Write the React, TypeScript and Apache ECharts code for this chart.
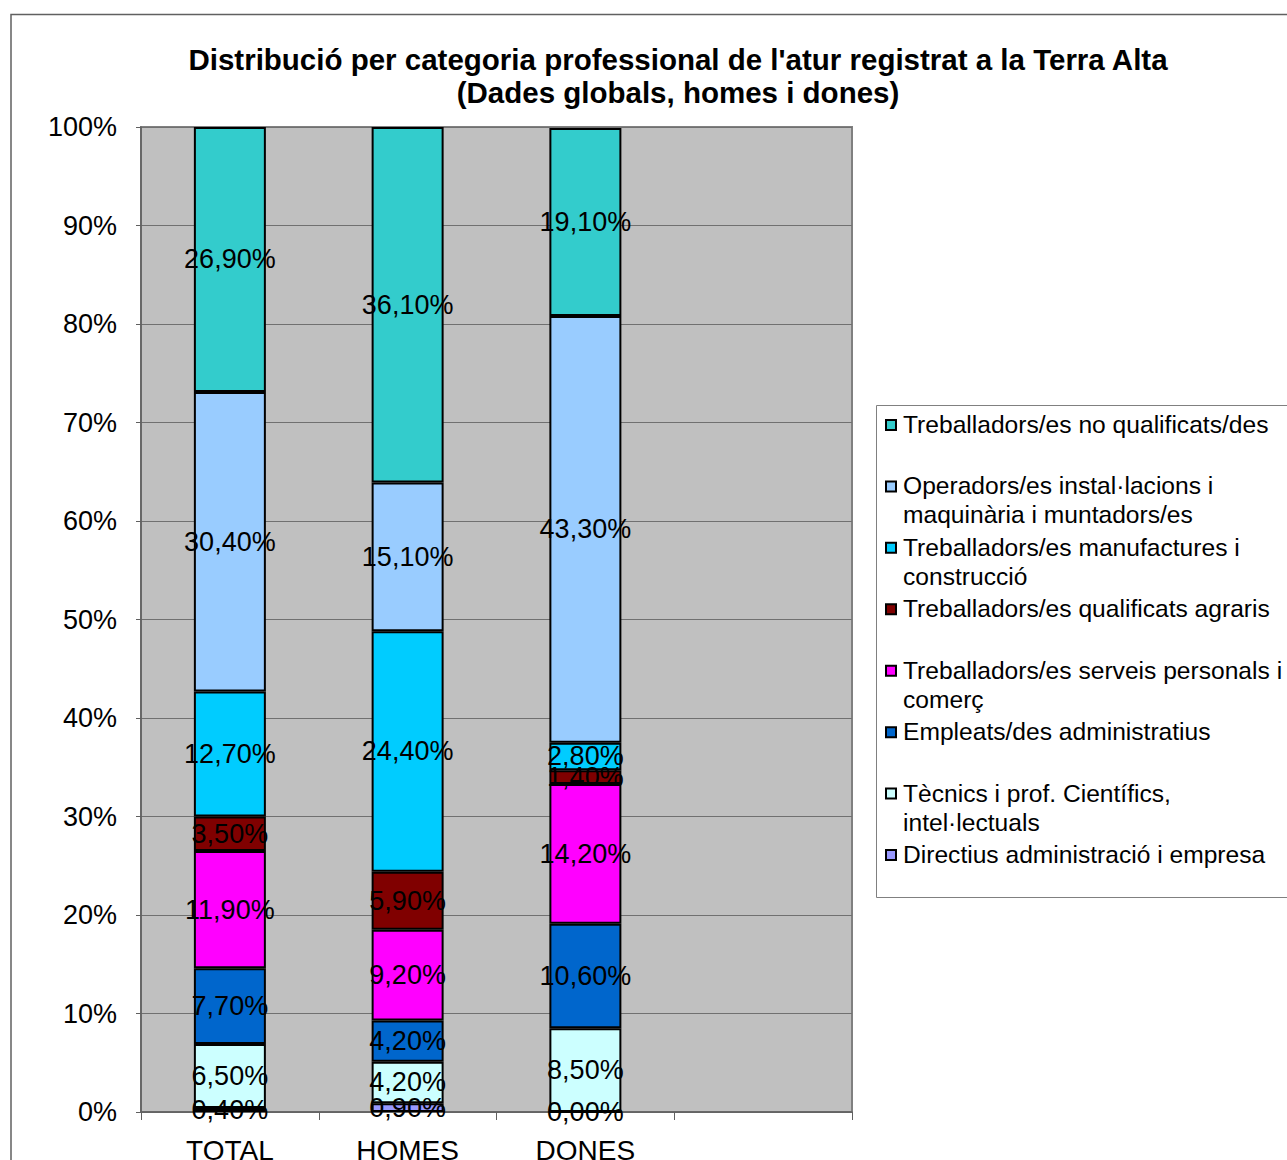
import React, { useEffect, useRef } from "react";
import * as echarts from "echarts";

const categories = ["TOTAL", "HOMES", "DONES", ""];
const seriesNames = [
  "Directius administració i empresa",
  "Tècnics i prof. Científics, intel·lectuals",
  "Empleats/des administratius",
  "Treballadors/es serveis personals i comerç",
  "Treballadors/es qualificats agraris",
  "Treballadors/es manufactures i construcció",
  "Operadors/es instal·lacions i maquinària i muntadors/es",
  "Treballadors/es no qualificats/des",
];
const legendTexts = [
  "Directius administració i empresa",
  "Tècnics i prof. Científics,\nintel·lectuals",
  "Empleats/des administratius",
  "Treballadors/es serveis personals i\ncomerç",
  "Treballadors/es qualificats agraris",
  "Treballadors/es manufactures i\nconstrucció",
  "Operadors/es instal·lacions i\nmaquinària i muntadors/es",
  "Treballadors/es no qualificats/des",
];
const colors = ["#9999FF", "#CCFFFF", "#0066CC", "#FF00FF", "#800000", "#00CCFF", "#99CCFF", "#33CCCC"];

const directius = [0.4, 0.9, 0.0];
const tecnics = [6.5, 4.2, 8.5];
const empleats = [7.7, 4.2, 10.6];
const serveis = [11.9, 9.2, 14.2];
const agraris = [3.5, 5.9, 1.4];
const manufactures = [12.7, 24.4, 2.8];
const operadors = [30.4, 15.1, 43.3];
const noQualificats = [26.9, 36.1, 19.1];
const seriesValues = [directius, tecnics, empleats, serveis, agraris, manufactures, operadors, noQualificats];

const yTicks = [0, 10, 20, 30, 40, 50, 60, 70, 80, 90, 100];

const FONT = "'Liberation Sans', Arial, sans-serif";

export default function App() {
  const ref = useRef<HTMLDivElement>(null);
  useEffect(() => {
    if (!ref.current) return;
    const chart = echarts.init(ref.current, undefined, { renderer: "svg" });

    const legendOrder = [7, 6, 5, 4, 3, 2, 1, 0];
    const legendGraphics: any[] = [
      {
        type: "rect",
        shape: { x: 876.5, y: 405.5, width: 430, height: 492 },
        style: { fill: "#fff", stroke: "#808080", lineWidth: 1 },
        z: 10,
      },
    ];
    legendOrder.forEach((si, i) => {
      const cy = 425 + i * 61.43;
      legendGraphics.push({
        type: "rect",
        shape: { x: 886, y: cy - 5, width: 10, height: 10 },
        style: { fill: colors[si], stroke: "#000", lineWidth: 2 },
        z: 11,
      });
      legendGraphics.push({
        type: "text",
        x: 903,
        y: cy - 15,
        style: {
          text: legendTexts[si],
          font: `24.6px ${FONT}`,
          fill: "#000",
          lineHeight: 29,
          verticalAlign: "top",
          align: "left",
        },
        z: 11,
      });
    });

    chart.setOption({
      animation: false,
      backgroundColor: "#ffffff",
      title: {
        text: "Distribució per categoria professional de l'atur registrat a la Terra Alta\n(Dades globals, homes i dones)",
        left: 673,
        textAlign: "center",
        top: 38,
        textStyle: { fontFamily: FONT, fontSize: 29.5, fontWeight: "bold", color: "#000", lineHeight: 33 },
      },
      grid: {
        left: 141,
        top: 127,
        width: 711,
        height: 985,
        outerBoundsMode: "none",
        containLabel: false,
        show: true,
        backgroundColor: "#c0c0c0",
        borderColor: "#808080",
        borderWidth: 2,
      },
      xAxis: {
        type: "category",
        data: categories,
        boundaryGap: true,
        axisLine: { show: true, lineStyle: { color: "#606060", width: 1.5 } },
        axisTick: { show: true, length: 8, alignWithLabel: false, lineStyle: { color: "#606060" } },
        axisLabel: { margin: 24, fontFamily: FONT, fontSize: 28, color: "#000" },
      },
      yAxis: {
        type: "value",
        min: 0,
        max: 100,
        interval: 10,
        axisLine: { show: true, lineStyle: { color: "#606060", width: 1.5 } },
        axisTick: { show: true, length: 5, inside: false, lineStyle: { color: "#606060" } },
        axisLabel: {
          margin: 24,
          fontFamily: FONT,
          fontSize: 27,
          color: "#000",
          formatter: (v: number) => (yTicks.includes(v) ? `${v}%` : ""),
        },
        splitLine: { show: true, lineStyle: { color: "#707070", width: 1 } },
      },
      series: seriesNames.map((name, si) => ({
        name,
        type: "bar",
        stack: "total",
        barWidth: 72,
        data: seriesValues[si],
        itemStyle: { color: colors[si], borderColor: "#000", borderWidth: 2 },
        label: {
          show: true,
          position: "inside",
          fontFamily: FONT,
          fontSize: 27,
          color: "#000",
          formatter: (p: any) => `${seriesValues[si][p.dataIndex].toFixed(2).replace(".", ",")}%`,
        },
      })),
      graphic: [
        {
          type: "rect",
          shape: { x: 11, y: 14.5, width: 1400, height: 1300 },
          style: { fill: "none", stroke: "#606060", lineWidth: 1.5 },
          silent: true,
          z: 20,
        },
        ...legendGraphics,
      ],
    });
    return () => chart.dispose();
  }, []);
  return (
    <div
      ref={ref}
      style={{ position: "absolute", left: 0, top: 0, width: 1287, height: 1160 }}
    />
  );
}
